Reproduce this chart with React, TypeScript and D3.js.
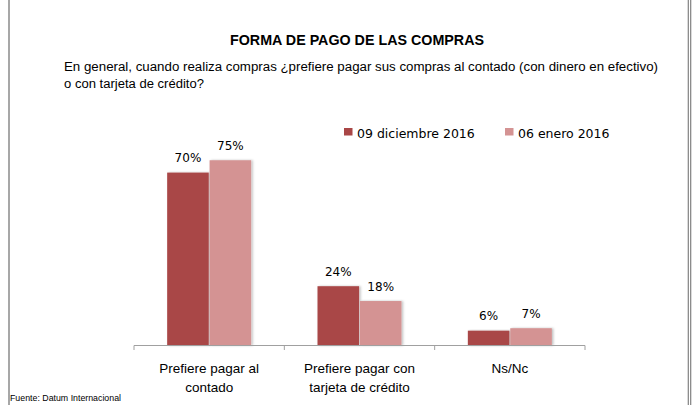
import React from "react";
import * as d3 from "d3";

const categories = ["Prefiere pagar al contado", "Prefiere pagar con tarjeta de crédito", "Ns/Nc"];
const categoryLines = [["Prefiere pagar al", "contado"], ["Prefiere pagar con", "tarjeta de crédito"], ["Ns/Nc"]];
const seriesNames = ["09 diciembre 2016", "06 enero 2016"];
const seriesDic = [70, 24, 6];
const seriesEne = [75, 18, 7];
const seriesColors = ["#A94646", "#D49393"];
const title = "FORMA DE PAGO DE LAS COMPRAS";
const subtitle1 = "En general, cuando realiza compras  ¿prefiere pagar sus compras al contado (con dinero en efectivo)";
const subtitle2 = "o con tarjeta de crédito?";
const source = "Fuente:  Datum Internacional";

export default function App() {
  const W = 697, H = 405;
  const baseY = 345.5;
  const x0 = d3.scaleBand<string>().domain(categories).range([134, 585]).padding(0);
  const bw = x0.bandwidth();
  const groupW = 84;
  const x1 = d3.scaleBand<string>().domain(seriesNames).range([bw / 2 - groupW / 2, bw / 2 + groupW / 2]).paddingInner(0.02);
  const y = d3.scaleLinear().domain([0, 80]).range([baseY, baseY - 80 * 2.47]);
  const data = [seriesDic, seriesEne];
  const fmt = (v: number) => `${v}%`;
  const ticks = [...categories.map((c) => x0(c) as number), 585];

  return (
    <svg width={W} height={H} style={{ position: "absolute", left: 0, top: 0, background: "#fff" }}>
      <defs>
        <filter id="sh" x="-10%" y="-10%" width="130%" height="130%">
          <feDropShadow dx="1.5" dy="0" stdDeviation="1" floodColor="#000" floodOpacity="0.25" />
        </filter>
      </defs>
      <rect x={0} y={0} width={W} height={H} fill="#fff" />
      {/* borders */}
      <line x1={9} y1={0} x2={9} y2={H} stroke="#8a8a8a" strokeWidth={1.5} />
      <line x1={688.3} y1={0} x2={688.3} y2={H} stroke="#808080" strokeWidth={1.2} />
      <line x1={690.7} y1={0} x2={690.7} y2={H} stroke="#808080" strokeWidth={1.2} />

      <text x={357} y={45} textAnchor="middle" fontFamily="Liberation Sans, Arial, sans-serif" fontWeight="bold" fontSize={15.5} textLength={254} lengthAdjust="spacingAndGlyphs" fill="#000">{title}</text>
      <text x={64} y={71} fontFamily="Liberation Sans, Arial, sans-serif" fontSize={12.5} textLength={594} lengthAdjust="spacingAndGlyphs" fill="#000">{subtitle1}</text>
      <text x={64} y={88} fontFamily="Liberation Sans, Arial, sans-serif" fontSize={12.5} textLength={140} lengthAdjust="spacingAndGlyphs" fill="#000">{subtitle2}</text>

      {/* legend */}
      {seriesNames.map((s, i) => {
        const lx = [344, 505][i];
        return (
          <g key={s}>
            <rect x={lx} y={128} width={8.5} height={7.5} fill={seriesColors[i]} />
            <text x={lx + 13} y={137.5} fontFamily="DejaVu Sans, Verdana, sans-serif" fontSize={12.5} fill="#000">{s}</text>
          </g>
        );
      })}

      {/* bars */}
      {categories.map((c, ci) => (
        <g key={c} transform={`translate(${x0(c)},0)`}>
          {seriesNames.map((s, si) => {
            const v = data[si][ci];
            const bx = x1(s) as number;
            return (
              <g key={s}>
                <rect x={bx} y={y(v)} width={x1.bandwidth()} height={baseY - y(v)} fill={seriesColors[si]} filter="url(#sh)" />
                <text x={bx + x1.bandwidth() / 2} y={y(v) - 10.5} textAnchor="middle" fontFamily="DejaVu Sans, Verdana, sans-serif" fontSize={12} fill="#000">{fmt(v)}</text>
              </g>
            );
          })}
        </g>
      ))}

      {/* axis */}
      <line x1={134} y1={baseY} x2={585} y2={baseY} stroke="#a0a0a0" strokeWidth={1} />
      {ticks.map((t, i) => (
        <line key={i} x1={t} y1={baseY} x2={t} y2={baseY + 4.5} stroke="#a0a0a0" strokeWidth={1} />
      ))}
      {categories.map((c, ci) => (
        <text key={c} textAnchor="middle" fontFamily="Liberation Sans, Arial, sans-serif" fontSize={13.5} fill="#000">
          {categoryLines[ci].map((ln, li) => (
            <tspan key={li} x={(x0(c) as number) + bw / 2} y={373 + li * 19}>{ln}</tspan>
          ))}
        </text>
      ))}

      <text x={10} y={401} fontFamily="Liberation Sans, Arial, sans-serif" fontSize={8.8} fill="#000">{source}</text>
    </svg>
  );
}
